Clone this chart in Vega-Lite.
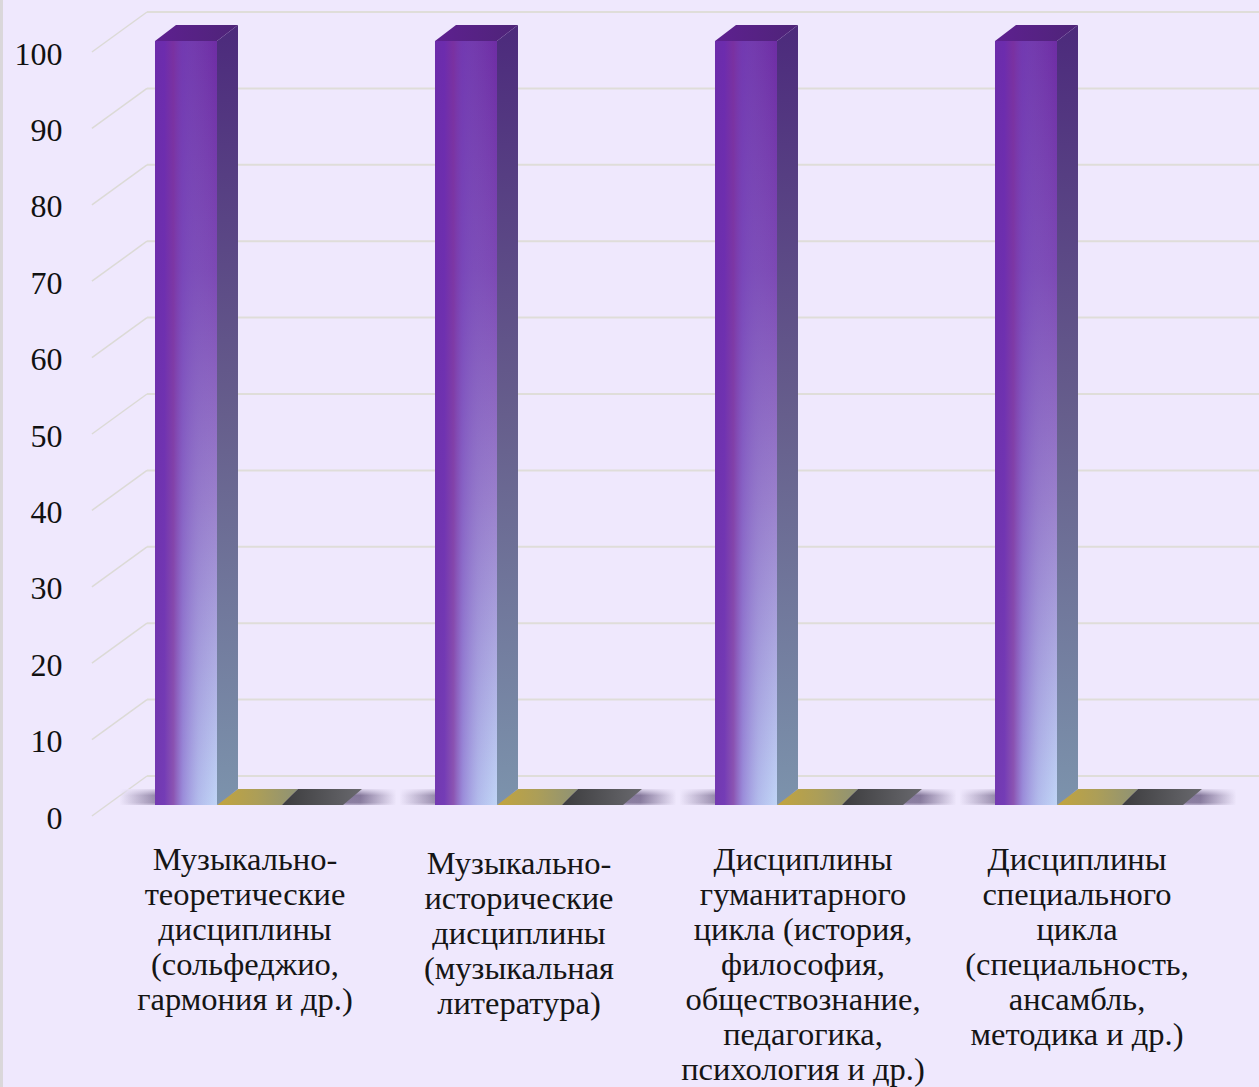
{"$schema":"https://vega.github.io/schema/vega-lite/v6.json","width":1197,"height":1087,"autosize":"none","padding":{"left":62,"top":0,"right":0,"bottom":0},"background":"#EFE8FD","config":{"view":{"stroke":null}},"datasets":{"bars":[
{"cat":"Музыкально-\nтеоретические\nдисциплины\n(сольфеджио,\nгармония и др.)","series":"Ряд 1","value":100},
{"cat":"Музыкально-\nтеоретические\nдисциплины\n(сольфеджио,\nгармония и др.)","series":"Ряд 2","value":0},
{"cat":"Музыкально-\nтеоретические\nдисциплины\n(сольфеджио,\nгармония и др.)","series":"Ряд 3","value":0},
{"cat":"Музыкально-\nисторические\nдисциплины\n(музыкальная\nлитература)","series":"Ряд 1","value":100},
{"cat":"Музыкально-\nисторические\nдисциплины\n(музыкальная\nлитература)","series":"Ряд 2","value":0},
{"cat":"Музыкально-\nисторические\nдисциплины\n(музыкальная\nлитература)","series":"Ряд 3","value":0},
{"cat":"Дисциплины\nгуманитарного\nцикла (история,\nфилософия,\nобществознание,\nпедагогика,\nпсихология и др.)","series":"Ряд 1","value":100},
{"cat":"Дисциплины\nгуманитарного\nцикла (история,\nфилософия,\nобществознание,\nпедагогика,\nпсихология и др.)","series":"Ряд 2","value":0},
{"cat":"Дисциплины\nгуманитарного\nцикла (история,\nфилософия,\nобществознание,\nпедагогика,\nпсихология и др.)","series":"Ряд 3","value":0},
{"cat":"Дисциплины\nспециального\nцикла\n(специальность,\nансамбль,\nметодика и др.)","series":"Ряд 1","value":100},
{"cat":"Дисциплины\nспециального\nцикла\n(специальность,\nансамбль,\nметодика и др.)","series":"Ряд 2","value":0},
{"cat":"Дисциплины\nспециального\nцикла\n(специальность,\nансамбль,\nметодика и др.)","series":"Ряд 3","value":0}
],"ticks":[{"v":0},{"v":10},{"v":20},{"v":30},{"v":40},{"v":50},{"v":60},{"v":70},{"v":80},{"v":90},{"v":100}]},
"resolve":{"scale":{"x":"independent"}},
"layer":[
{"data":{"name":"ticks"},"layer":[
{"mark":{"type":"rule","color":"#DAD8DA","strokeWidth":2},"encoding":{"x":{"datum":-0.0505,"type":"quantitative","scale":{"domain":[0,1],"range":[0,1197]},"axis":null}}},
{"mark":{"type":"rule","color":"#DFDDD9","strokeWidth":2,"yOffset":-29},"encoding":{"x":{"datum":0.071,"type":"quantitative","scale":{"domain":[0,1],"range":[0,1197]},"axis":null},"x2":{"datum":1},"y":{"field":"v","type":"quantitative","scale":{"domain":[0,100],"range":[805,41]},"axis":{"values":[0,10,20,30,40,50,60,70,80,90,100],"title":null,"domain":false,"ticks":false,"grid":false,"labelPadding":0,"labelOffset":13,"labelFont":"Liberation Serif","labelFontSize":32,"labelColor":"#111111"}}}},
{"mark":{"type":"rule","color":"#DCDAD6","strokeWidth":1.5,"yOffset":11,"y2Offset":-29},"encoding":{"x":{"datum":0.025,"type":"quantitative","scale":{"domain":[0,1],"range":[0,1197]},"axis":null},"x2":{"datum":0.071},"y":{"field":"v","type":"quantitative"},"y2":{"field":"v"}}}
]},
{"data":{"name":"bars"},"encoding":{"x":{"field":"cat","type":"nominal","sort":null,"axis":null,"scale":{"range":[46,1166],"paddingInner":0,"paddingOuter":0}}},"layer":[
{"transform":[{"filter":"datum.series==='Ряд 1'"}],"mark":{"type":"bar","width":277,"xOffset":10,"fill":{"gradient":"linear","x1":0,"y1":0,"x2":1,"y2":0,"stops":[{"offset":0,"color":"rgba(100,85,125,0)"},{"offset":0.126,"color":"rgba(100,85,125,0.65)"},{"offset":0.87,"color":"rgba(100,85,125,0.8)"},{"offset":1,"color":"rgba(100,85,125,0)"}]}},"encoding":{"y":{"datum":0,"type":"quantitative"},"y2":{"datum":2.1}}},
{"transform":[{"filter":"datum.series==='Ряд 1'"}],"mark":{"type":"bar","width":277,"xOffset":10,"fill":{"gradient":"linear","x1":0,"y1":0,"x2":0,"y2":1,"stops":[{"offset":0,"color":"rgba(239,232,253,0.85)"},{"offset":0.4,"color":"rgba(239,232,253,0.05)"},{"offset":0.85,"color":"rgba(239,232,253,0.1)"},{"offset":1,"color":"rgba(239,232,253,0.5)"}]}},"encoding":{"y":{"datum":0,"type":"quantitative"},"y2":{"datum":2.1}}},
{"transform":[{"filter":"datum.series==='Ряд 2'"}],"mark":{"type":"point","filled":true,"opacity":1,"size":4,"strokeWidth":0,"shape":"M-31,0L34,0L50,-16L-10,-16Z","fill":{"gradient":"linear","x1":0,"y1":0,"x2":1,"y2":0,"stops":[{"offset":0,"color":"#C2A43E"},{"offset":0.5,"color":"#AC9E58"},{"offset":1,"color":"#8E9276"}]}},"encoding":{"xOffset":{"field":"series","type":"nominal","scale":{"paddingInner":0,"paddingOuter":0.758}},"y":{"field":"value","type":"quantitative"}}},
{"transform":[{"filter":"datum.series==='Ряд 3'"}],"mark":{"type":"point","filled":true,"opacity":1,"size":4,"strokeWidth":0,"shape":"M-28,0L33,0L52,-16L-12,-16Z","fill":{"gradient":"linear","x1":0,"y1":0,"x2":1,"y2":0,"stops":[{"offset":0,"color":"#3C3C3E"},{"offset":1,"color":"#69696E"}]}},"encoding":{"xOffset":{"field":"series","type":"nominal","scale":{"paddingInner":0,"paddingOuter":0.758}},"y":{"field":"value","type":"quantitative"}}},
{"transform":[{"filter":"datum.series==='Ряд 1'"}],"mark":{"type":"point","filled":true,"opacity":1,"size":4,"strokeWidth":0,"shape":"M31,0L52,-16L52,748L31,764Z","fill":{"gradient":"linear","x1":0,"y1":0,"x2":0,"y2":1,"stops":[{"offset":0,"color":"#4C2A7C"},{"offset":0.5,"color":"#665E8C"},{"offset":1,"color":"#7C93AC"}]}},"encoding":{"xOffset":{"field":"series","type":"nominal","scale":{"paddingInner":0,"paddingOuter":0.758}},"y":{"field":"value","type":"quantitative"}}},
{"transform":[{"filter":"datum.series==='Ряд 1'"}],"mark":{"type":"point","filled":true,"opacity":1,"size":4,"strokeWidth":0,"shape":"M-31,0L31,0L52,-16L-10,-16Z","fill":{"gradient":"linear","x1":0,"y1":0,"x2":1,"y2":0,"stops":[{"offset":0,"color":"#5E2090"},{"offset":1,"color":"#4E2478"}]}},"encoding":{"xOffset":{"field":"series","type":"nominal","scale":{"paddingInner":0,"paddingOuter":0.758}},"y":{"field":"value","type":"quantitative"}}},
{"transform":[{"filter":"datum.series==='Ряд 1'"}],"mark":{"type":"bar","fill":{"gradient":"linear","x1":0,"y1":0,"x2":0,"y2":1,"stops":[{"offset":0,"color":"#6E2CA4"},{"offset":0.3,"color":"#7C48B4"},{"offset":0.6,"color":"#9A80CC"},{"offset":1,"color":"#C0D4F6"}]}},"encoding":{"xOffset":{"field":"series","type":"nominal","scale":{"paddingInner":0,"paddingOuter":0.758}},"y":{"field":"value","type":"quantitative","stack":null}}},
{"transform":[{"filter":"datum.series==='Ряд 1'"}],"mark":{"type":"bar","fill":{"gradient":"linear","x1":0,"y1":0,"x2":1,"y2":0,"stops":[{"offset":0,"color":"rgba(108,44,170,0.92)"},{"offset":0.15,"color":"rgba(108,44,175,0.9)"},{"offset":0.3,"color":"rgba(125,50,160,0.78)"},{"offset":0.45,"color":"rgba(118,70,190,0.5)"},{"offset":0.7,"color":"rgba(130,100,200,0.22)"},{"offset":1,"color":"rgba(140,120,210,0)"}]}},"encoding":{"xOffset":{"field":"series","type":"nominal","scale":{"paddingInner":0,"paddingOuter":0.758}},"y":{"field":"value","type":"quantitative","stack":null}}},
{"transform":[{"filter":"datum.series==='Ряд 1' && indexof(datum.cat,'сольфеджио')>=0"}],"mark":{"type":"text","lineBreak":"\n","font":"Liberation Serif","fontSize":32.5,"lineHeight":35,"color":"#151515","baseline":"top","dx":-3,"dy":39},"encoding":{"text":{"field":"cat"},"y":{"datum":0,"type":"quantitative"}}},
{"transform":[{"filter":"datum.series==='Ряд 1' && indexof(datum.cat,'музыкальная')>=0"}],"mark":{"type":"text","lineBreak":"\n","font":"Liberation Serif","fontSize":32.5,"lineHeight":35,"color":"#151515","baseline":"top","dx":-9,"dy":43},"encoding":{"text":{"field":"cat"},"y":{"datum":0,"type":"quantitative"}}},
{"transform":[{"filter":"datum.series==='Ряд 1' && indexof(datum.cat,'гуманитарного')>=0"}],"mark":{"type":"text","lineBreak":"\n","font":"Liberation Serif","fontSize":32.5,"lineHeight":35,"color":"#151515","baseline":"top","dx":-5,"dy":39},"encoding":{"text":{"field":"cat"},"y":{"datum":0,"type":"quantitative"}}},
{"transform":[{"filter":"datum.series==='Ряд 1' && indexof(datum.cat,'специального')>=0"}],"mark":{"type":"text","lineBreak":"\n","font":"Liberation Serif","fontSize":32.5,"lineHeight":35,"color":"#151515","baseline":"top","dx":-11,"dy":39},"encoding":{"text":{"field":"cat"},"y":{"datum":0,"type":"quantitative"}}}
]}
]}
